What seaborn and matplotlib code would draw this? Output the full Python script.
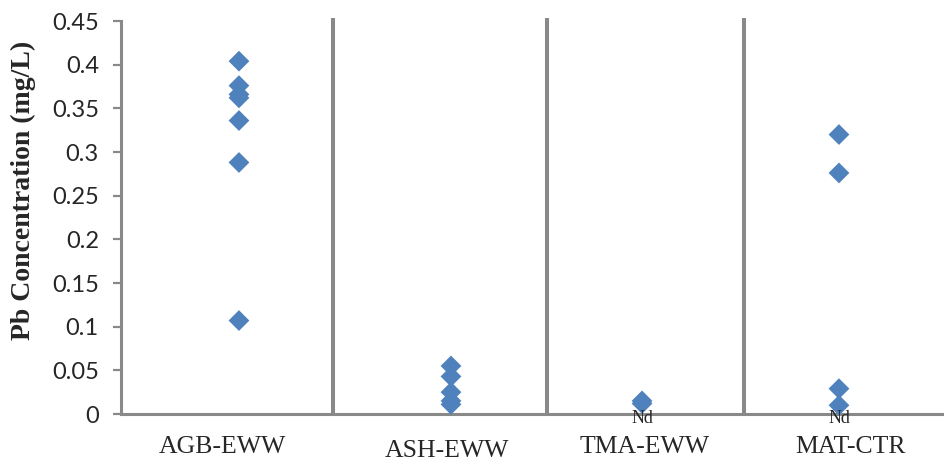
import numpy as np
import pandas as pd
import seaborn as sns
import matplotlib.pyplot as plt
from matplotlib.transforms import ScaledTranslation

# Sample groups and their x positions on the plot (x axis runs 0 to 4.2)
groups = ["AGB-EWW", "ASH-EWW", "TMA-EWW", "MAT-CTR"]
group_x = [0.602, 1.684, 2.659, 3.664]
label_x = [0.515, 1.661, 2.674, 3.725]
divider_x = [1.082, 2.174, 3.179]

# Pb concentrations (mg/L)
agb_vals = [0.404, 0.376, 0.366, 0.362, 0.336, 0.288, 0.107]
ash_vals = [0.055, 0.043, 0.025, 0.015, 0.011]
tma_vals = [0.015, 0.012]
mat_vals = [0.320, 0.276, 0.029, 0.010]

# groups with non-detected samples
nd_groups = ["TMA-EWW", "MAT-CTR"]

y_ticks = [0, 0.05, 0.1, 0.15, 0.2, 0.25, 0.3, 0.35, 0.4, 0.45]
y_tick_labels = ["0", "0.05", "0.1", "0.15", "0.2", "0.25", "0.3", "0.35", "0.4", "0.45"]


def build_frame():
    rows = []
    for g, x, vals in zip(groups, group_x, [agb_vals, ash_vals, tma_vals, mat_vals]):
        for v in vals:
            rows.append({"group": g, "x": x, "pb": v})
    return pd.DataFrame(rows)


def main():
    sns.set_style("white")
    df = build_frame()

    fig = plt.figure(figsize=(9.44, 4.61), dpi=100)
    ax = fig.add_axes([121 / 944, 47 / 461, 823 / 944, 393 / 461])

    gray = "#898989"
    sns.scatterplot(data=df, x="x", y="pb", marker="D", s=112, color="#4F81BD",
                    edgecolor="none", ax=ax, legend=False, zorder=3, clip_on=False)

    # vertical group dividers
    ax.vlines(divider_x, 0, 0.4535, colors=gray, linewidth=2.9, clip_on=False, zorder=1)

    ax.set_xlim(0, 4.2)
    ax.set_ylim(0, 0.45)

    ax.set_yticks(y_ticks)
    ax.set_yticklabels(y_tick_labels, fontsize=17, family="Lato")
    ax.tick_params(axis="y", length=6, width=1.6, color=gray, pad=10, direction="out", left=True)

    ax.set_xticks(label_x)
    ax.set_xticklabels(groups, fontsize=18.5, family="Liberation Serif")
    ax.tick_params(axis="x", length=0, pad=16)
    # the ASH-EWW label sits a little lower in the original
    lbl = ax.get_xticklabels()[1]
    lbl.set_transform(lbl.get_transform() + ScaledTranslation(0, -4 / 100, fig.dpi_scale_trans))

    for g in nd_groups:
        ax.text(group_x[groups.index(g)], -0.0048, "Nd", ha="center", va="center",
                fontsize=13, family="Liberation Serif", zorder=4)

    ax.set_xlabel("")
    ax.set_ylabel("Pb Concentration (mg/L)", fontsize=20, family="Liberation Serif",
                  fontweight="bold", va="center")
    ax.yaxis.set_label_coords(-0.118, 0.57)

    for side in ["top", "right"]:
        ax.spines[side].set_visible(False)
    ax.spines["left"].set_color(gray)
    ax.spines["left"].set_linewidth(2.2)
    ax.spines["bottom"].set_color(gray)
    ax.spines["bottom"].set_linewidth(2.2)

    fig.savefig("out.png", dpi=100)
    plt.close(fig)


if __name__ == "__main__":
    main()
